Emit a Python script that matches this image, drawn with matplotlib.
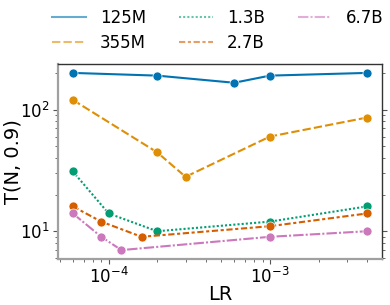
import matplotlib
matplotlib.use("Agg")
import matplotlib.pyplot as plt

labels = ["125M", "355M", "1.3B", "2.7B", "6.7B"]
lr_125m = [6e-5, 2e-4, 6e-4, 1e-3, 4e-3]
t_125m = [200, 190, 166, 190, 200]
lr_355m = [6e-5, 2e-4, 3e-4, 1e-3, 4e-3]
t_355m = [120, 44.5, 28, 60, 86]
lr_1_3b = [6e-5, 1e-4, 2e-4, 1e-3, 4e-3]
t_1_3b = [31, 14, 10, 12, 16]
lr_2_7b = [6e-5, 9e-5, 1.6e-4, 1e-3, 4e-3]
t_2_7b = [16, 12, 9, 11, 14]
lr_6_7b = [6e-5, 9e-5, 1.2e-4, 1e-3, 4e-3]
t_6_7b = [14, 9, 7, 9, 10]

xs = [lr_125m, lr_355m, lr_1_3b, lr_2_7b, lr_6_7b]
ys = [t_125m, t_355m, t_1_3b, t_2_7b, t_6_7b]
colors = ["#0173b2", "#de8f05", "#029e73", "#d55e00", "#cc78bc"]
dashes = [None, (4, 1.5), (1, 1), (3, 1.25, 1.5, 1.25), (5, 1, 1, 1)]

fig = plt.figure(figsize=(3.9, 3.05), dpi=100)
ax = fig.add_axes([0.149, 0.151, 0.830, 0.639])

handles = []
for x, y, c, d, lab in zip(xs, ys, colors, dashes, labels):
    kw = {}
    if d is not None:
        kw["dashes"] = d
    ax.plot(x, y, color=c, lw=1.5, marker="o", ms=6.5, mec="white", mew=0.5, **kw)
    h, = ax.plot([], [], color=c, lw=1.5, alpha=0.6, label=lab, **kw)
    handles.append(h)

ax.set_xscale("log")
ax.set_yscale("log")
ax.tick_params(which="both", labelsize=12, direction="out", pad=2.5)
ax.tick_params(axis="y", which="both", right=True)
ax.set_xlabel("LR", fontsize=14, labelpad=-2)
ax.set_ylabel("T(N, 0.9)", fontsize=14, labelpad=-2)
for s in ["left", "bottom"]:
    ax.spines[s].set_color("#a0a0a0")
    ax.spines[s].set_linewidth(1.6)
for s in ["top", "right"]:
    ax.spines[s].set_color("#333333")
    ax.spines[s].set_linewidth(1.0)
ax.tick_params(which="both", colors="#555555", labelcolor="black")

fig.legend(handles=handles, loc="upper center", bbox_to_anchor=(0.558, 1.02), ncol=3,
           frameon=False, fontsize=12, handlelength=2.0, handletextpad=0.85,
           columnspacing=2.0, labelspacing=0.44)

fig.savefig("out.png", dpi=100)
